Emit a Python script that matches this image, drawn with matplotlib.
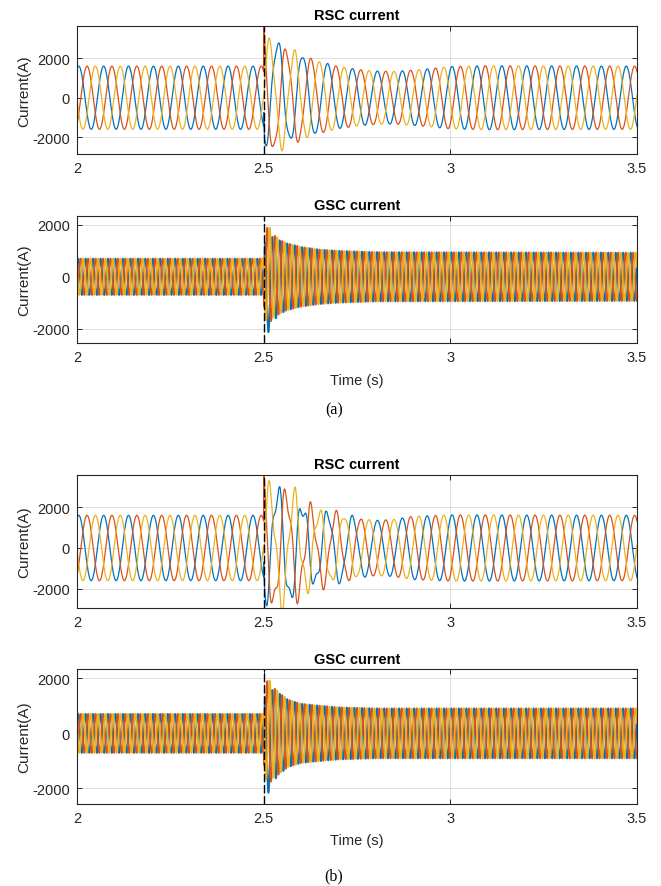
import numpy as np
import matplotlib
matplotlib.use('Agg')
from matplotlib import pyplot as plt
from matplotlib.ticker import FormatStrFormatter

plt.rcParams['font.family'] = ['Liberation Sans', 'DejaVu Sans']
plt.rcParams['axes.unicode_minus'] = False

# ---- data ----
t_start, t_end, t_fault = 2.0, 3.5, 2.5
phase_colors = ['#0072BD', '#D95319', '#EDB120']   # a, b, c

# rotor side converter (15 Hz slip frequency), blue peak at 2.0047 s
rsc_freq = 15.0
rsc_t_peak = 2.0047

# amplitude envelope, case (a)
rsc_a_env_t = [2.0, 2.5, 2.502, 2.55, 2.60, 2.65, 2.70, 2.75, 2.80, 2.85, 2.90, 2.95, 3.00, 3.10, 3.50]
rsc_a_env = [1600, 1600, 2700, 2500, 2100, 1800, 1580, 1430, 1350, 1330, 1400, 1480, 1580, 1620, 1600]
rsc_a_dc = [450, 0, 150]            # decaying offset per phase
rsc_a_dist_t = [2.5, 2.56, 2.65, 3.5]
rsc_a_dist = [300, 250, 0, 0]       # extra oscillation after the fault
# amplitude envelope, case (b)
rsc_b_env_t = [2.0, 2.5, 2.502, 2.53, 2.57, 2.60, 2.63, 2.67, 2.70, 2.75, 2.80, 2.85, 2.90, 3.00, 3.50]
rsc_b_env = [1600, 1600, 2500, 2700, 2700, 2100, 1800, 1700, 1650, 1450, 1350, 1400, 1550, 1620, 1600]
rsc_b_dc = [200, -100, 150]
rsc_b_dist_t = [2.5, 2.6, 2.68, 2.78, 3.5]
rsc_b_dist = [650, 550, 250, 0, 0]
rsc_dist_freq = 42.0
rsc_red_spike = 2500

# grid side converter (50 Hz)
gsc_freq = 50.0
gsc_t_peak = 2.003
gsc_a_env_t = [2.0, 2.5, 2.503, 2.52, 2.54, 2.56, 2.60, 2.65, 2.70, 2.80, 3.50]
gsc_a_env = [700, 700, 2000, 1700, 1450, 1300, 1150, 1050, 1000, 950, 930]
gsc_b_env_t = [2.0, 2.5, 2.503, 2.52, 2.535, 2.565, 2.60, 2.65, 2.70, 2.80, 3.50]
gsc_b_env = [710, 710, 2000, 1750, 1550, 1230, 1080, 1010, 950, 910, 910]
gsc_dc = [-900, 0, 450]

ylims = [(-2850, 3650), (-2560, 2350), (-2940, 3590), (-2570, 2340)]


def build(t, freq, t_peak, env_t, env, dc, dc_tau, dist_t=None, dist=None, spike=0):
    amp = np.interp(t, env_t, env)
    after = t >= t_fault
    decay = np.where(after, np.exp(-(t - t_fault) / dc_tau), 0.0)
    fast = np.where(after, np.exp(-(t - t_fault) / 0.003), 0.0)
    out = []
    for k in range(3):
        w = amp * np.cos(2 * np.pi * freq * (t - t_peak) - 2 * np.pi * k / 3)
        w = w + dc[k] * decay
        if dist is not None:
            d = np.where(after, np.interp(t, dist_t, dist), 0.0)
            w = w + d * np.cos(2 * np.pi * rsc_dist_freq * (t - t_fault) - 2 * np.pi * k / 3 + 0.6)
        if k == 1:
            w = w + spike * fast
        out.append(w)
    return out


t = np.arange(t_start, t_end + 2e-5, 2e-5)

panels = [
    ('RSC current', build(t, rsc_freq, rsc_t_peak, rsc_a_env_t, rsc_a_env, rsc_a_dc, 0.06,
                          rsc_a_dist_t, rsc_a_dist, rsc_red_spike), 0.9),
    ('GSC current', build(t, gsc_freq, gsc_t_peak, gsc_a_env_t, gsc_a_env, gsc_dc, 0.012), 1.3),
    ('RSC current', build(t, rsc_freq, rsc_t_peak, rsc_b_env_t, rsc_b_env, rsc_b_dc, 0.06,
                          rsc_b_dist_t, rsc_b_dist, rsc_red_spike), 0.9),
    ('GSC current', build(t, gsc_freq, gsc_t_peak, gsc_b_env_t, gsc_b_env, gsc_dc, 0.012), 1.3),
]

positions = [[0.1165, 0.8253, 0.8472, 0.1446],
             [0.1165, 0.6118, 0.8472, 0.1439],
             [0.1165, 0.3134, 0.8472, 0.1503],
             [0.1165, 0.0924, 0.8472, 0.1522]]

fig = plt.figure(figsize=(6.61, 8.87), dpi=100)

for i, (title, waves, lw) in enumerate(panels):
    ax = fig.add_axes(positions[i])
    for w, c in zip(waves, phase_colors):
        ax.plot(t, w, color=c, lw=lw)
    ax.axvline(t_fault, color='k', lw=1.0, ls=(0, (6, 2)))
    ax.set_xlim(t_start, t_end)
    ax.set_ylim(*ylims[i])
    ax.set_xticks([2, 2.5, 3, 3.5])
    ax.set_yticks([-2000, 0, 2000])
    ax.xaxis.set_major_formatter(FormatStrFormatter('%g'))
    ax.grid(True, color='#dedede', lw=0.7)
    ax.set_axisbelow(True)
    ax.tick_params(direction='in', length=3.5, width=0.7, top=True, right=True,
                   labelsize=10.5, colors='#262626', pad=5)
    for s in ax.spines.values():
        s.set_color('#262626')
        s.set_linewidth(0.8)
    ax.set_title(title, fontsize=10.5, fontweight='bold', pad=4.5)
    ax.set_ylabel('Current(A)', fontsize=11, color='#262626', labelpad=1)
    if i in (1, 3):
        ax.set_xlabel('Time (s)', fontsize=10.5, color='#262626', labelpad=6)

fig.text(0.505, 0.5378, '(a)', family=['Liberation Serif', 'DejaVu Serif'], fontsize=11.5,
         ha='center', va='center')
fig.text(0.505, 0.0124, '(b)', family=['Liberation Serif', 'DejaVu Serif'], fontsize=11.5,
         ha='center', va='center')

fig.savefig('out.png', dpi=100)
